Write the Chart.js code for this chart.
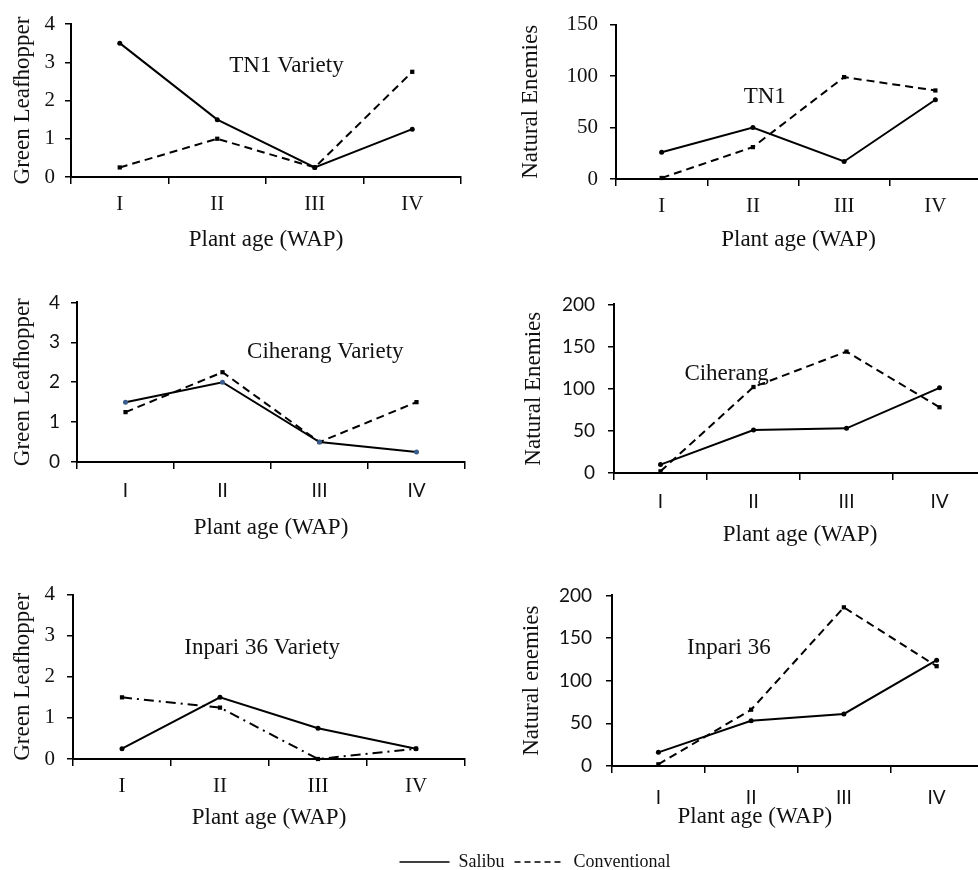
<!DOCTYPE html>
<html>
<head>
<meta charset="utf-8">
<script src="https://cdn.jsdelivr.net/npm/chart.js@4.4.1/dist/chart.umd.min.js"></script>
<style>
  html, body { margin: 0; padding: 0; background: #fff; }
  #fig { position: relative; width: 978px; height: 870px; overflow: hidden; background: #fff; }
  #fig canvas { position: absolute; }
</style>
</head>
<body>
<div id="fig"></div>
<script>
// plant age in weeks after planting
const weeks = ['I', 'II', 'III', 'IV'];
const seriesNames = ['Salibu', 'Conventional'];

// green leafhopper counts
const tn1GlhSalibu = [3.5, 1.5, 0.25, 1.25];
const tn1GlhConv   = [0.25, 1.0, 0.25, 2.75];
const cihGlhSalibu = [1.5, 2.0, 0.5, 0.25];
const cihGlhConv   = [1.25, 2.25, 0.5, 1.5];
const inpGlhSalibu = [0.25, 1.5, 0.75, 0.25];
const inpGlhConv   = [1.5, 1.25, 0, 0.25];

// natural enemies counts
const tn1NeSalibu = [26, 50, 17, 77];
const tn1NeConv   = [1, 31, 99, 86];
const cihNeSalibu = [10, 51, 53, 101];
const cihNeConv   = [2, 102, 144, 78];
const inpNeSalibu = [16, 53, 61, 124];
const inpNeConv   = [2, 66, 186, 117];

const INK = '#111';
const SERIF = '"Liberation Serif", "Times New Roman", serif';
const SANS = 'Lato, "Liberation Sans", sans-serif';

const panels = [
  { box: [0, 0, 480, 254], area: {left: 71, top: 24, right: 461, bottom: 177},
    salibu: tn1GlhSalibu, conv: tn1GlhConv, yMax: 4, yStep: 1, yTitle: 'Green Leafhopper',
    tickFont: SERIF, tickSize: 21, yPad: 10, xPad: 8, yTitlePad: 9,
    notes: [{text: 'TN1 Variety', i: 1.71, v: 2.9}] },
  { box: [489, 0, 510, 254], area: {left: 616, top: 20, right: 981, bottom: 179},
    salibu: tn1NeSalibu, conv: tn1NeConv, yMax: 150, yStep: 50, yTitle: 'Natural Enemies',
    tickFont: SERIF, tickSize: 21, yPad: 12, xPad: 8, yTitlePad: 28,
    notes: [{text: 'TN1', i: 1.13, v: 80}] },
  { box: [0, 280, 480, 262], area: {left: 77, top: 293, right: 465, bottom: 462},
    salibu: cihGlhSalibu, conv: cihGlhConv, yMax: 4, yStep: 1, yTitle: 'Green Leafhopper',
    tickFont: SANS, tickSize: 19, yPad: 11, xPad: 10, yTitlePad: 9, salibuPoint: '#3a5d8c',
    notes: [{text: 'Ciherang Variety', i: 2.06, v: 2.75}] },
  { box: [489, 280, 510, 269], area: {left: 614, top: 296, right: 986, bottom: 473},
    salibu: cihNeSalibu, conv: cihNeConv, yMax: 200, yStep: 50, yTitle: 'Natural Enemies',
    tickFont: SANS, tickSize: 19, yPad: 13, xPad: 10, yTitlePad: 31,
    notes: [{text: 'Ciherang', i: 0.71, v: 118}] },
  { box: [0, 570, 480, 262], area: {left: 73, top: 585, right: 465, bottom: 759},
    salibu: inpGlhSalibu, conv: inpGlhConv, yMax: 4, yStep: 1, yTitle: 'Green Leafhopper',
    tickFont: SERIF, tickSize: 21, yPad: 12, xPad: 8, yTitlePad: 9, convDash: [10, 5, 2, 5],
    notes: [{text: 'Inpari 36 Variety', i: 1.43, v: 2.7}] },
  { box: [489, 570, 510, 264], area: {left: 612, top: 586, right: 983, bottom: 766},
    salibu: inpNeSalibu, conv: inpNeConv, yMax: 200, yStep: 50, yTitle: 'Natural enemies',
    tickFont: SANS, tickSize: 19, yPad: 14, xPad: 13, yTitlePad: 29, noXTitle: true,
    notes: [{text: 'Inpari 36', i: 0.76, v: 138}, {text: 'Plant age (WAP)', i: 1.04, v: -60}] }
];

const fig = document.getElementById('fig');

function notesPlugin(items) {
  return {
    id: 'notes',
    afterDatasetsDraw(chart) {
      const {ctx, scales: {x, y}} = chart;
      ctx.save();
      ctx.font = '23px ' + SERIF;
      ctx.fillStyle = INK;
      ctx.textAlign = 'center';
      ctx.textBaseline = 'middle';
      items.forEach(n => ctx.fillText(n.text, x.getPixelForValue(n.i), y.getPixelForValue(n.v)));
      ctx.restore();
    }
  };
}

function addCanvas(x, y, w, h) {
  const c = document.createElement('canvas');
  c.width = w; c.height = h;
  c.style.left = x + 'px'; c.style.top = y + 'px';
  c.style.width = w + 'px'; c.style.height = h + 'px';
  fig.appendChild(c);
  return c;
}

panels.forEach(p => {
  const [bx, by, bw, bh] = p.box;
  const c = addCanvas(bx, by, bw, bh);
  const tickFont = {family: p.tickFont, size: p.tickSize};
  new Chart(c, {
    type: 'line',
    data: {
      labels: weeks,
      datasets: [
        { label: seriesNames[0], data: p.salibu, borderColor: '#000', borderWidth: 2,
          pointStyle: 'circle', pointRadius: 2.5, pointBorderWidth: 0,
          pointBackgroundColor: p.salibuPoint || '#000', tension: 0, clip: false },
        { label: seriesNames[1], data: p.conv, borderColor: '#000', borderWidth: 2,
          borderDash: p.convDash || [8, 5], pointStyle: 'rect', pointRadius: 3,
          pointBorderWidth: 0, pointBackgroundColor: '#000', tension: 0, clip: false }
      ]
    },
    options: {
      responsive: false, animation: false, devicePixelRatio: 1,
      layout: { padding: { top: p.area.top - by, right: bx + bw - p.area.right, left: 0, bottom: 0 } },
      plugins: { legend: { display: false }, tooltip: { enabled: false } },
      scales: {
        x: {
          offset: true,
          grid: { offset: true, drawOnChartArea: false, drawTicks: true, tickLength: 7,
                  color: '#000', tickColor: '#000', lineWidth: 1.5 },
          border: { display: true, color: '#000', width: 2 },
          ticks: { font: tickFont, color: INK, padding: p.xPad, maxRotation: 0 },
          title: { display: !p.noXTitle, text: 'Plant age (WAP)', color: INK,
                   font: {family: SERIF, size: 23}, padding: {top: 0, bottom: 0} },
          afterFit: s => { s.height = by + bh - p.area.bottom; }
        },
        y: {
          min: 0, max: p.yMax,
          grid: { drawOnChartArea: false, drawTicks: true, tickLength: 6,
                  color: '#000', tickColor: '#000', lineWidth: 1.5 },
          border: { display: true, color: '#000', width: 2 },
          ticks: { stepSize: p.yStep, font: tickFont, color: INK, padding: p.yPad },
          title: { display: true, text: p.yTitle, color: INK,
                   font: {family: SERIF, size: 23}, padding: {top: p.yTitlePad, bottom: 0} },
          afterFit: s => { s.width = p.area.left - bx; }
        }
      }
    },
    plugins: [notesPlugin(p.notes)]
  });
});

// shared legend under the panels (canvas runs past the figure bottom, clipped)
const lc = addCanvas(235, 820, 600, 120);
new Chart(lc, {
  type: 'line',
  data: {
    labels: weeks,
    datasets: [
      { label: seriesNames[0], data: [], borderColor: '#000', borderWidth: 1.5 },
      { label: seriesNames[1], data: [], borderColor: '#000', borderWidth: 1.5, borderDash: [6, 4] }
    ]
  },
  options: {
    responsive: false, animation: false, devicePixelRatio: 1,
    layout: { padding: { top: 23, left: 0, right: 0, bottom: 0 } },
    scales: { x: { display: false }, y: { display: false } },
    plugins: {
      tooltip: { enabled: false },
      legend: {
        display: true, position: 'top',
        labels: {
          usePointStyle: true, pointStyleWidth: 50, padding: 10, color: INK,
          font: {family: SERIF, size: 18},
          generateLabels: chart => chart.data.datasets.map((ds, i) => ({
            text: ds.label, datasetIndex: i, hidden: false, pointStyle: 'line',
            strokeStyle: ds.borderColor, fillStyle: ds.borderColor,
            lineWidth: ds.borderWidth, lineDash: ds.borderDash || [], fontColor: INK
          }))
        }
      }
    }
  }
});
</script>
</body>
</html>
